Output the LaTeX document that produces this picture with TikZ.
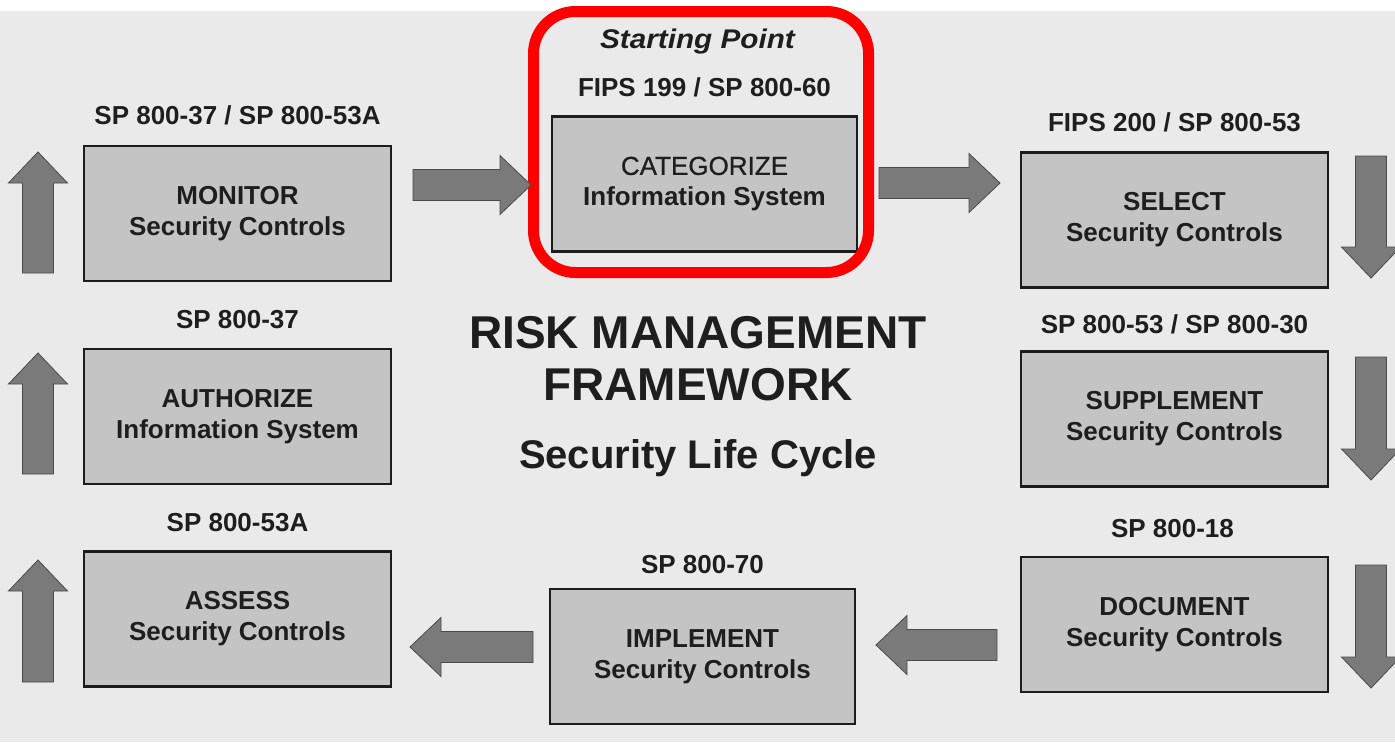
\documentclass[tikz,border=0pt]{standalone}
\usepackage{fontspec}
\setmainfont{Liberation Sans}
\usetikzlibrary{calc}

\definecolor{bgpanel}{HTML}{EAEAEA}
\definecolor{boxfill}{HTML}{C4C4C4}
\definecolor{boxline}{HTML}{1C1C1C}
\definecolor{arrfill}{HTML}{7A7A7A}
\definecolor{arrline}{HTML}{4A4A4A}
\definecolor{ink}{HTML}{1E1E1E}
\definecolor{hilite}{HTML}{FF0000}

\newcommand{\boxfont}{\fontsize{26}{31}\selectfont\bfseries}
\newcommand{\lblfont}{\fontsize{26}{31}\selectfont\bfseries}
\newcommand{\bigtitlefont}{\fontsize{46}{52}\selectfont\bfseries}
\newcommand{\subtitlefont}{\fontsize{40}{46}\selectfont\bfseries}
\newcommand{\mediumtext}[1]{{\mdseries\addfontfeature{FakeBold=0.7}#1}}

% block arrow: #1 = placement (shift/rotate), #2 = length from tail to tip
\newcommand{\blockarrow}[2]{%
  \begin{scope}[#1]
    \draw[blockarrow] (0,-15.5) -- ({#2-31},-15.5) -- ({#2-31},-29.5) -- (#2,0)
      -- ({#2-31},29.5) -- ({#2-31},15.5) -- (0,15.5) -- cycle;
  \end{scope}}

\begin{document}
\begin{tikzpicture}[x=1pt,y=-1pt,
  stagebox/.style={draw=boxline, fill=boxfill, line width=2.4pt,
    minimum width=307pt, minimum height=135pt, align=center,
    text=ink, font=\boxfont, inner sep=0pt},
  reflabel/.style={text=ink, font=\lblfont, inner sep=0pt},
  titletext/.style={text=ink, inner sep=0pt},
  blockarrow/.style={fill=arrfill, draw=arrline, line width=0.8pt, line join=miter}]

\useasboundingbox (0,0) rectangle (1395,742);
\clip (0,0) rectangle (1395,742);
\fill[white] (0,0) rectangle (1395,742);
\fill[bgpanel] (0,11) rectangle (1395,742);

% stages of the life cycle
\node[stagebox] (mon) at (237.5,213.5) {MONITOR\\Security Controls};
\node[stagebox] (aut) at (237.5,416.5) {AUTHORIZE\\Information System};
\node[stagebox] (ass) at (237.5,619)   {ASSESS\\Security Controls};
\node[stagebox, minimum width=305pt] (cat) at (704.5,184)
  {\mediumtext{CATEGORIZE}\\Information System};
\node[stagebox] (sel) at (1174.5,220)  {SELECT\\Security Controls};
\node[stagebox] (sup) at (1174.5,419)  {SUPPLEMENT\\Security Controls};
\node[stagebox] (doc) at (1174.5,624.5){DOCUMENT\\Security Controls};
\node[stagebox, minimum width=305pt] (imp) at (702.5,656.5)
  {IMPLEMENT\\Security Controls};

% reference documents above each stage
\node[reflabel] (monref) at ([yshift=29pt]mon.north) {SP 800-37 / SP 800-53A};
\node[reflabel] (autref) at ([yshift=28pt]aut.north) {SP 800-37};
\node[reflabel] (assref) at ([yshift=28pt]ass.north) {SP 800-53A};
\node[reflabel] (catref) at ([yshift=28pt]cat.north) {FIPS 199 / SP 800-60};
\node[reflabel] (start)  at ([yshift=74pt,xshift=-7pt]cat.north)
  {\scalebox{1.1}[1]{\fontsize{27}{31}\selectfont\bfseries\itshape Starting Point}};
\node[reflabel] (selref) at ([yshift=29pt]sel.north) {FIPS 200 / SP 800-53};
\node[reflabel] (supref) at ([yshift=26pt]sup.north) {SP 800-53 / SP 800-30};
\node[reflabel] (docref) at ([yshift=27pt,xshift=-2pt]doc.north) {SP 800-18};
\node[reflabel] (impref) at ([yshift=23pt]imp.north) {SP 800-70};

% starting point highlight
\draw[hilite, line width=11pt, rounded corners=42pt] (533.5,11.5) rectangle (868.5,272.5);

% central title
\node[titletext, font=\bigtitlefont] (t1) at (698,333) {RISK MANAGEMENT};
\node[titletext, font=\bigtitlefont] (t2) at (698,385) {FRAMEWORK};
\node[titletext, font=\subtitlefont] (t3) at (698,458) {Security Life Cycle};

% flow arrows
\coordinate (h1) at (413,185);
\coordinate (h2) at (879,183);
\coordinate (h3) at (997,645);
\coordinate (h4) at (533,647);
\blockarrow{shift={(h1)}}{118}
\blockarrow{shift={(h2)}}{121}
\blockarrow{shift={(h3)},rotate=180}{121}
\blockarrow{shift={(h4)},rotate=180}{123}

\coordinate (u1) at (38,273);
\coordinate (u2) at (38,474);
\coordinate (u3) at (38,682);
\blockarrow{shift={(u1)},rotate=90}{121}
\blockarrow{shift={(u2)},rotate=90}{121}
\blockarrow{shift={(u3)},rotate=90}{122}

\coordinate (d1) at (1371,156);
\coordinate (d2) at (1371,357);
\coordinate (d3) at (1371,565);
\blockarrow{shift={(d1)},rotate=-90}{122}
\blockarrow{shift={(d2)},rotate=-90}{123}
\blockarrow{shift={(d3)},rotate=-90}{123}
\end{tikzpicture}
\end{document}
